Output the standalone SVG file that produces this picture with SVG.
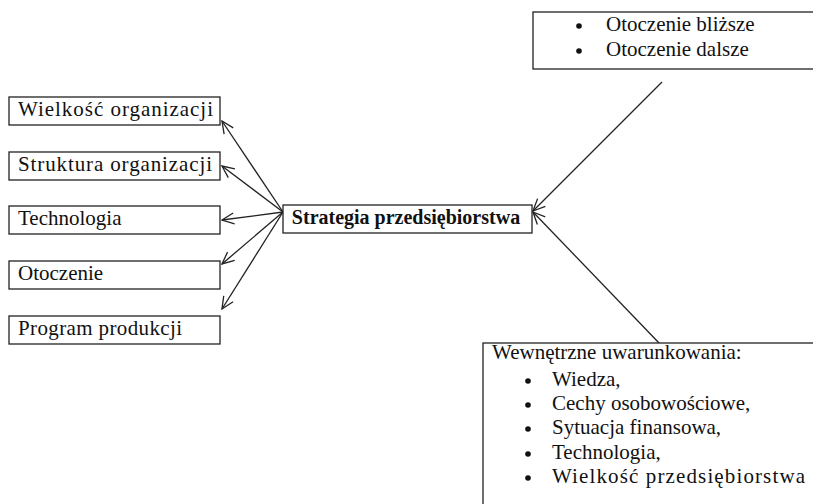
<svg xmlns="http://www.w3.org/2000/svg" width="813" height="504" viewBox="0 0 813 504">
<style>
.box{fill:#fff;stroke:#222;stroke-width:1.3}
.t{font-family:"Liberation Serif","Times New Roman",serif;font-size:21px;fill:#111}
.b{font-weight:bold;font-size:20px}
.c{stroke:#222;stroke-width:1.3;fill:none}
.dot{fill:#111}
</style>
<defs>
<marker id="ah" markerWidth="14" markerHeight="14" refX="1" refY="7" orient="auto" markerUnits="userSpaceOnUse">
<path d="M13,1.5 L1,7 L13,12.5" fill="none" stroke="#222" stroke-width="1.3"/>
</marker>
</defs>
<g id="connectors">
<path class="c" d="M222,121 L283,212" marker-start="url(#ah)"/>
<path class="c" d="M222,166 L283,212" marker-start="url(#ah)"/>
<path class="c" d="M222,220 L283,212" marker-start="url(#ah)"/>
<path class="c" d="M222,264 L283,212" marker-start="url(#ah)"/>
<path class="c" d="M222,309 L283,212" marker-start="url(#ah)"/>
<path class="c" d="M533,211 L662,82" marker-start="url(#ah)"/>
<path class="c" d="M533,212 L660,344" marker-start="url(#ah)"/>
</g>
<g id="otoczenie-zewn">
<rect class="box" x="533" y="12" width="290" height="57"/>
<circle class="dot" cx="579" cy="26" r="2.8"/>
<text class="t" x="606" y="31">Otoczenie bliższe</text>
<circle class="dot" cx="579" cy="51" r="2.8"/>
<text class="t" x="606" y="56">Otoczenie dalsze</text>
</g>
<g id="wielkosc">
<rect class="box" x="9" y="97" width="211" height="28"/>
<text class="t" x="18" y="116" textLength="195" lengthAdjust="spacing">Wielkość organizacji</text>
</g>
<g id="struktura">
<rect class="box" x="9" y="152" width="211" height="28"/>
<text class="t" x="18" y="171" textLength="194" lengthAdjust="spacing">Struktura organizacji</text>
</g>
<g id="technologia">
<rect class="box" x="9" y="206" width="211" height="28"/>
<text class="t" x="18" y="225">Technologia</text>
</g>
<g id="otoczenie">
<rect class="box" x="9" y="261" width="211" height="28"/>
<text class="t" x="18" y="280">Otoczenie</text>
</g>
<g id="program">
<rect class="box" x="9" y="316" width="211" height="28"/>
<text class="t" x="18" y="335" textLength="164" lengthAdjust="spacing">Program produkcji</text>
</g>
<g id="strategia">
<rect class="box" x="283" y="205" width="249" height="28"/>
<text class="t b" x="406" y="224" text-anchor="middle">Strategia przedsiębiorstwa</text>
</g>
<g id="wewnetrzne">
<rect class="box" x="483" y="343" width="340" height="170"/>
<text class="t" x="492" y="359">Wewnętrzne uwarunkowania:</text>
<circle class="dot" cx="528" cy="381" r="2.8"/>
<text class="t" x="552" y="386">Wiedza,</text>
<circle class="dot" cx="528" cy="405" r="2.8"/>
<text class="t" x="552" y="410">Cechy osobowościowe,</text>
<circle class="dot" cx="528" cy="429" r="2.8"/>
<text class="t" x="552" y="434">Sytuacja finansowa,</text>
<circle class="dot" cx="528" cy="454" r="2.8"/>
<text class="t" x="552" y="459">Technologia,</text>
<circle class="dot" cx="528" cy="478" r="2.8"/>
<text class="t" x="552" y="483" textLength="253" lengthAdjust="spacing">Wielkość przedsiębiorstwa</text>
</g>
</svg>
